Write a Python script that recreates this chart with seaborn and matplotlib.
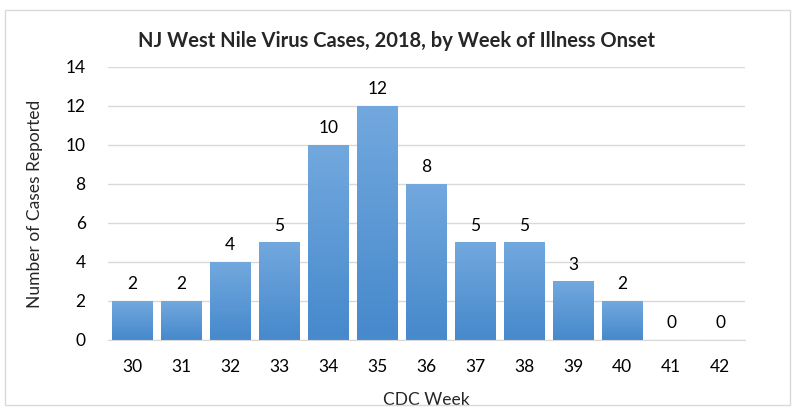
import seaborn as sb
from matplotlib import pyplot as plt
from matplotlib.patches import Rectangle
from matplotlib.colors import LinearSegmentedColormap
import pandas as pd
import numpy as np

weeks = ['30', '31', '32', '33', '34', '35', '36', '37', '38', '39', '40', '41', '42']
cases = [2, 2, 4, 5, 10, 12, 8, 5, 5, 3, 2, 0, 0]
df = pd.DataFrame({'CDC Week': weeks, 'Cases': cases})

sb.set_style('white')
plt.rcParams['font.family'] = ['Lato', 'DejaVu Sans']

fig = plt.figure(figsize=(7.93, 4.08), dpi=100)
fig.patches.append(Rectangle((5 / 793, 3 / 408), 785 / 793, 395 / 408, transform=fig.transFigure,
                             fill=False, edgecolor='#d9d9d9', linewidth=1))
ax = fig.add_axes([0.136, 0.167, 0.803, 0.669])
sb.barplot(data=df, x='CDC Week', y='Cases', color='#5b9bd5', width=0.82, ax=ax)

# excel-like vertical gradient on each bar
cmap = LinearSegmentedColormap.from_list('bar', ['#4689cc', '#72a8de'])
grad = np.linspace(0, 1, 100).reshape(-1, 1)
for p in ax.patches:
    x0, y0 = p.get_x(), p.get_y()
    w, h = p.get_width(), p.get_height()
    if h <= 0:
        continue
    p.set_facecolor('none')
    p.set_edgecolor('none')
    im = ax.imshow(grad, cmap=cmap, origin='lower', aspect='auto',
                   extent=(x0, x0 + w, y0, y0 + h), zorder=2)
    im.set_clip_path(p)

for i, v in enumerate(cases):
    ax.text(i, v + 0.45, str(v), ha='center', va='bottom', fontsize=12.5, color='#000000')

ax.set_xlim(-0.5, len(weeks) - 0.5)
ax.set_ylim(0, 14)
ax.set_yticks(np.arange(0, 15, 2))
ax.yaxis.grid(True, color='#d9d9d9', linewidth=1)
ax.set_axisbelow(True)
for s in ['top', 'right', 'left']:
    ax.spines[s].set_visible(False)
ax.spines['bottom'].set_color('#d9d9d9')
ax.tick_params(axis='both', length=0, labelsize=12.5, colors='#000000')
ax.tick_params(axis='y', pad=16)
ax.tick_params(axis='x', pad=14)
ax.set_xlabel('CDC Week', fontsize=12.5, labelpad=12)
ax.set_ylabel('Number of Cases Reported', fontsize=12.5, labelpad=16)
fig.suptitle('NJ West Nile Virus Cases, 2018, by Week of Illness Onset',
             fontsize=14.5, fontweight='bold', x=0.5, y=0.925)

fig.savefig('out.png', dpi=100)
